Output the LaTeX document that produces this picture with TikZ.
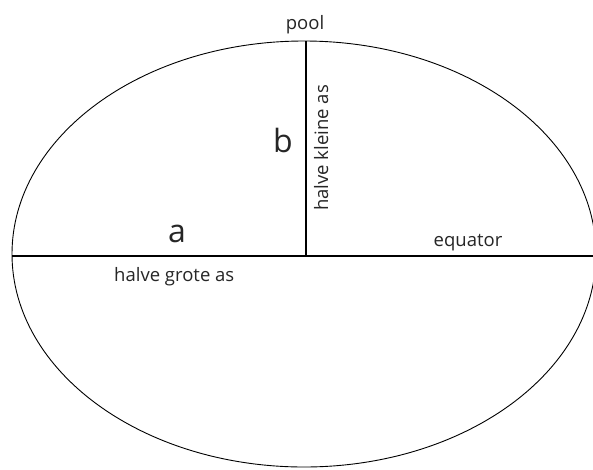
\documentclass[tikz,border=0pt]{standalone}
\usepackage{fontspec}
\setmainfont{Open Sans}
\begin{document}
\begin{tikzpicture}[x=1pt,y=-1pt,
  lbl/.style={inner sep=0pt, font=\fontsize{18.5}{20}\selectfont, text=black!85},
  big/.style={inner sep=0pt, font=\fontsize{32}{34}\selectfont, text=black!85}]
\useasboundingbox (0,0) rectangle (593,469);
\fill[white] (0,0) rectangle (593,469);
\coordinate (c) at (304,254);
\draw[line width=0.9pt] (c) ellipse [x radius=292, y radius=213];
\coordinate (L) at (12,256);
\coordinate (R) at (593,256);
\coordinate (T) at (306,41);
\coordinate (M) at (306,256);
\draw[line width=2pt] (L) -- (R);
\draw[line width=2pt] (T) -- (M);
\node[lbl, anchor=base] (pool) at (305,29) {pool};
\node[big, anchor=base] (b) at (283,152) {b};
\node[big, anchor=base] (a) at (177,242) {a};
\node[lbl, anchor=base west] (hga) at (114,281) {halve grote as};
\node[lbl, anchor=base, rotate=90] (hka) at (328,148) {halve kleine as};
\node[lbl, anchor=base] (eq) at (468,246) {equator};
\end{tikzpicture}
\end{document}
